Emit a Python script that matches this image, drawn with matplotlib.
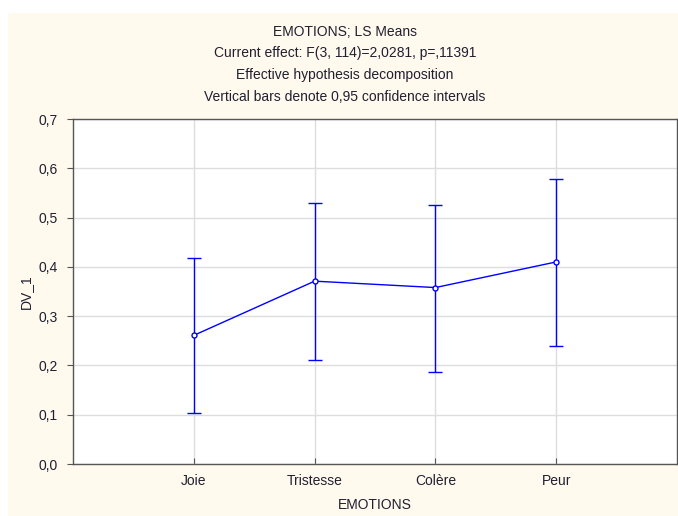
import numpy as np
import matplotlib.pyplot as plt
from matplotlib.patches import Rectangle

plt.rcParams['font.family'] = ['Liberation Sans', 'DejaVu Sans']

# Données
emotions = ['Joie', 'Tristesse', 'Colère', 'Peur']
moyennes = [0.261, 0.371, 0.358, 0.410]
borne_haute = [0.417, 0.530, 0.526, 0.579]
borne_basse = [0.104, 0.211, 0.187, 0.239]

titres = ['EMOTIONS; LS Means',
          'Current effect: F(3, 114)=2,0281, p=,11391',
          'Effective hypothesis decomposition',
          'Vertical bars denote 0,95 confidence intervals']

W, H = 678, 516
fig = plt.figure(figsize=(W / 100, H / 100), dpi=100, facecolor='white')

# Fond crème de la zone graphique
fig.patches.append(Rectangle((8 / W, 0), 1, 1 - 13 / H, transform=fig.transFigure,
                             facecolor='#FFF9EE', edgecolor='none', zorder=-10))

ax = fig.add_axes([73 / W, 1 - 464 / H, 604 / W, 345 / H])
ax.set_facecolor('white')

x = np.arange(1, len(emotions) + 1)
moy = np.array(moyennes)
err = [moy - np.array(borne_basse), np.array(borne_haute) - moy]
ax.errorbar(x, moy, yerr=err, color='#0000FF', lw=1, elinewidth=1, capsize=4.7,
            capthick=1, marker='o', ms=3.6, mfc='white', mec='#0000FF', mew=1,
            zorder=3)

ax.set_xlim(0, 5)
ax.set_ylim(0, 0.7)
ax.set_xticks(x)
ax.set_xticklabels(emotions)
ax.set_yticks(np.arange(0, 0.71, 0.1))
ax.set_yticklabels([f'{v:.1f}'.replace('.', ',') for v in np.arange(0, 0.71, 0.1)])
ax.grid(True, color='#DDDDDD', lw=1)
ax.set_axisbelow(True)

for s in ax.spines.values():
    s.set_color('#555555')
    s.set_linewidth(1)

ax.tick_params(axis='y', direction='out', length=4, color='#555555',
               labelsize=10, labelcolor='#202030', pad=7)
ax.tick_params(axis='x', direction='in', length=4, color='#555555',
               labelsize=10, labelcolor='#202030', pad=7.5)

ax.set_xlabel('EMOTIONS', fontsize=10, color='#202030', labelpad=7)
ax.set_ylabel('DV_1', fontsize=10, color='#202030', labelpad=4)

ys = [32, 53, 75, 97]
for t, yy in zip(titres, ys):
    fig.text(345 / W, 1 - yy / H, t, ha='center', va='center', fontsize=10,
             color='#202030')

fig.savefig('out.png', dpi=100, facecolor=fig.get_facecolor())
